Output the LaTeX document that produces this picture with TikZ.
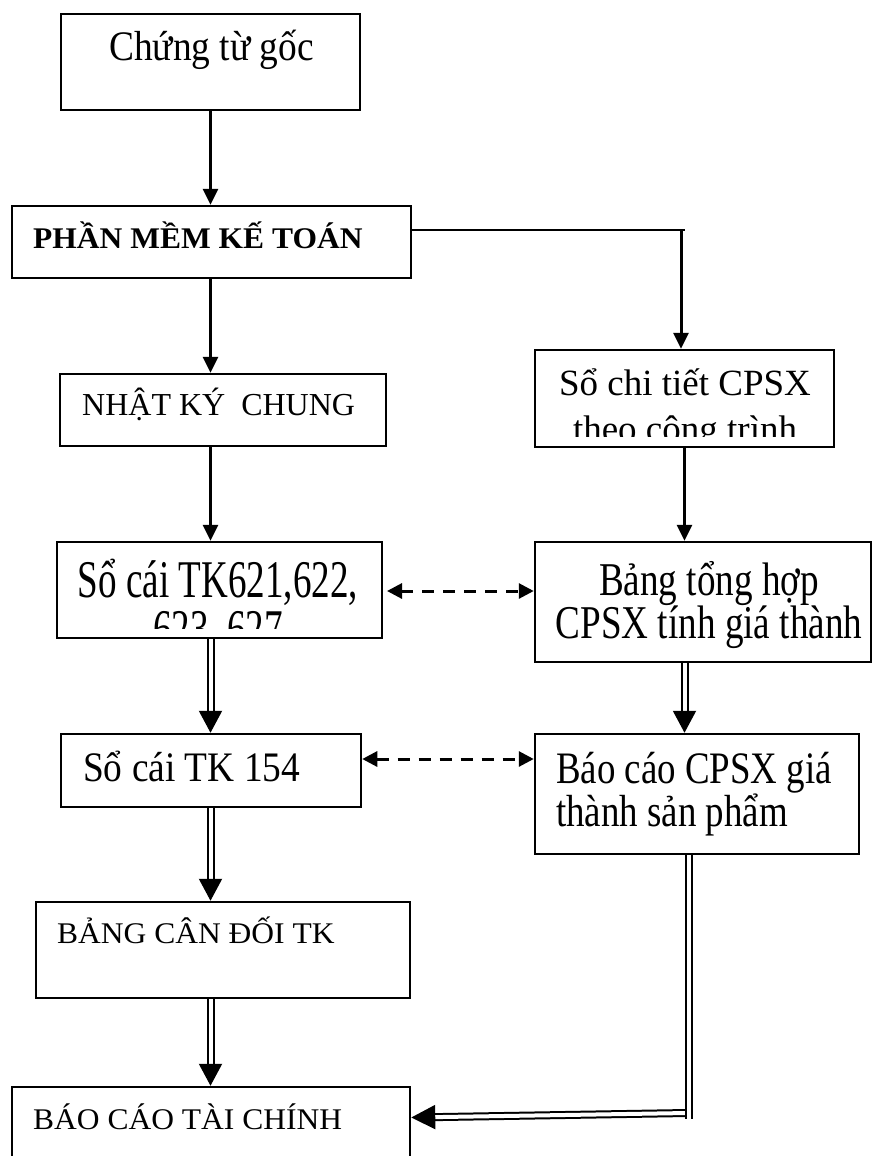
\documentclass[tikz,border=0pt]{standalone}
\usepackage{fontspec}
\setmainfont{Liberation Serif}
% Times-metric serif at several set widths
\newfontfamily\serifN{Liberation Serif}
\newfontfamily\serifW[FakeStretch=1.05]{Liberation Serif}
\newfontfamily\serifA[FakeStretch=0.89]{Liberation Serif}
\newfontfamily\serifB[FakeStretch=0.70]{Liberation Serif}
\newfontfamily\serifC[FakeStretch=0.79]{Liberation Serif}
\newfontfamily\serifD[FakeStretch=0.82]{Liberation Serif}
\usetikzlibrary{arrows.meta,calc}
% tight two-line labels: keep the baseline distance even when lines crowd
\lineskiplimit=-1000pt\relax
% two-line label blocks, baseline on the first line
\newcommand{\centerpair}[3]{\parbox[t]{#1}{\centering #2\\#3}}
\newcommand{\leftpair}[3]{\parbox[t]{#1}{\raggedright #2\\#3}}

\begin{document}
\begin{tikzpicture}[x=1pt,y=-1pt,
  boxnode/.style={draw, line width=2.5pt, inner sep=0pt, rectangle},
  lbl/.style={inner sep=0pt, anchor=base},
  lblw/.style={inner sep=0pt, anchor=base west},
  singlearrow/.style={line width=3pt, -{Triangle[length=16pt,width=15pt]}},
  dasharrow/.style={line width=3pt, dash pattern=on 12pt off 9pt,
    {Triangle[length=15pt,width=15pt]}-{Triangle[length=15pt,width=15pt]}},
  doubleline/.style={line width=2pt, double=white, double distance=4pt},
  doublearrow/.style={doubleline, -{Triangle[length=22pt,width=23pt]}},
]
\useasboundingbox (0,0) rectangle (874,1156);
\clip (0,0) rectangle (874,1156);
\fill[white] (0,0) rectangle (874,1156);

% ---- boxes ----
\node[boxnode, minimum width=299pt, minimum height=96pt]  (src)     at (210.5,62)   {};
\node[boxnode, minimum width=399pt, minimum height=72pt]  (soft)    at (211.5,242)  {};
\node[boxnode, minimum width=299pt, minimum height=97pt]  (detail)  at (684.5,398.5){};
\node[boxnode, minimum width=326pt, minimum height=72pt]  (journal) at (223,410)    {};
\node[boxnode, minimum width=325pt, minimum height=96pt]  (ledger)  at (219.5,590)  {};
\node[boxnode, minimum width=336pt, minimum height=120pt] (summary) at (703,602)    {};
\node[boxnode, minimum width=300pt, minimum height=73pt]  (stock)   at (211,770.5)  {};
\node[boxnode, minimum width=324pt, minimum height=120pt] (report)  at (697,794)    {};
\node[boxnode, minimum width=374pt, minimum height=96pt]  (balance) at (223,950)    {};
\node[boxnode, minimum width=398pt, minimum height=96pt]  (fin)     at (211,1135)   {};

% ---- texts ----
\node[lbl, font=\serifA\fontsize{42pt}{42pt}\selectfont] (srcT) at (211.5,60) {Chứng từ gốc};
\node[lblw, font=\serifW\bfseries\fontsize{30pt}{30pt}\selectfont] (softT) at (33,248) {PHẦN MỀM KẾ TOÁN};
\node[lblw, font=\serifN\fontsize{32pt}{32pt}\selectfont] (journalT) at (82,415) {NHẬT KÝ\ \ CHUNG};

\begin{scope}
  \clip (detail.north west) rectangle ([yshift=12pt]detail.south east);
  \node[lbl, font=\serifN\fontsize{37pt}{46pt}\selectfont]
    (detailT) at (685,395) {\centerpair{290pt}{Sổ chi tiết CPSX}{theo công trình}};
\end{scope}

\begin{scope}
  \clip (ledger.north west) rectangle ([yshift=11pt]ledger.south east);
  \node[lbl, font=\serifB\fontsize{53pt}{49pt}\selectfont]
    (ledgerT) at (218,597) {\centerpair{320pt}{Sổ cái TK621,622,}{623, 627}};
\end{scope}

\node[lbl, font=\serifC\fontsize{47pt}{37pt}\selectfont]
  (summaryT) at (709,595) {\centerpair{330pt}{Bảng tổng hợp}{CPSX tính giá thành}};

\node[lblw, font=\serifA\fontsize{42pt}{42pt}\selectfont] (stockT) at (83,781) {Sổ cái TK 154};

\node[lblw, font=\serifD\fontsize{45pt}{37pt}\selectfont]
  (reportT) at (556,783) {\leftpair{300pt}{Báo cáo CPSX giá}{thành sản phẩm}};

\node[lblw, font=\serifW\fontsize{30pt}{30pt}\selectfont] (balanceT) at (57,943) {BẢNG CÂN ĐỐI TK};
\node[lblw, font=\serifW\fontsize{30pt}{30pt}\selectfont] (finT) at (33,1129) {BÁO CÁO TÀI CHÍNH};

% ---- connectors ----
\coordinate (colL) at (210.5,0);
\coordinate (colR) at (684.5,0);

\draw[singlearrow] (src.south -| colL) -- (soft.north -| colL);
\draw[singlearrow] (soft.south -| colL) -- (journal.north -| colL);
\draw[singlearrow] (journal.south -| colL) -- (ledger.north -| colL);

\coordinate (bend) at (681,230);
\coordinate (bendEnd) at (685,230);
\draw[line width=2.5pt] (soft.east |- bend) -- (bendEnd);
\draw[singlearrow] (bend) -- (detail.north -| bend);
\draw[singlearrow] (detail.south -| colR) -- (summary.north -| colR);

\coordinate (dashA) at (387,591);
\draw[dasharrow] (dashA) -- (summary.west |- dashA);
\coordinate (dashB) at (0,759);
\draw[dasharrow] (stock.east |- dashB) -- (report.west |- dashB);

\draw[doublearrow] (ledger.south -| colL) -- (stock.north -| colL);
\draw[doublearrow] (summary.south -| colR) -- (report.north -| colR);
\draw[doublearrow] (stock.south -| colL) -- (balance.north -| colL);
\draw[doublearrow] (balance.south -| colL) -- (fin.north -| colL);

\coordinate (retH) at (687,1113);
\coordinate (retY) at (0,1117.5);
\coordinate (retV) at (689,1119);
\draw[doubleline, -{Triangle[length=24pt,width=24pt]}] (retH) -- (fin.east |- retY);
\draw[doubleline] (report.south -| retV) -- (retV);
\end{tikzpicture}
\end{document}
